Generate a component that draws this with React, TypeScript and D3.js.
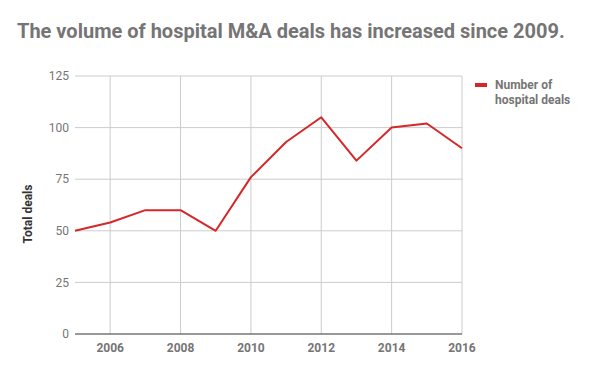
import { useEffect, useRef } from 'react';
import * as d3 from 'd3';

const years = [2005, 2006, 2007, 2008, 2009, 2010, 2011, 2012, 2013, 2014, 2015, 2016];
const deals = [50, 54, 60, 60, 50, 76, 93, 105, 84, 100, 102, 90];
const yTicks = [0, 25, 50, 75, 100, 125];
const xTicks = [2006, 2008, 2010, 2012, 2014, 2016];

const W = 600;
const H = 371;
const M = { top: 76, right: 138, bottom: 37, left: 75 };
const FONT = 'Roboto, sans-serif';

export default function App() {
  const svgRef = useRef<SVGSVGElement>(null);

  useEffect(() => {
    const svg = d3.select(svgRef.current);
    svg.selectAll('*').remove();

    const x = d3.scaleLinear().domain([2005, 2016]).range([M.left, W - M.right]);
    const y = d3.scaleLinear().domain([0, 125]).range([H - M.bottom, M.top]);

    svg.append('rect').attr('width', W).attr('height', H).attr('fill', '#ffffff');

    // Title
    svg
      .append('text')
      .attr('x', 17)
      .attr('y', 38)
      .attr('font-family', FONT)
      .attr('font-size', '20px')
      .attr('font-weight', 'bold')
      .attr('fill', '#757575')
      .text('The volume of hospital M&A deals has increased since 2009.');

    // Grid
    svg
      .append('g')
      .selectAll('line')
      .data(yTicks.filter(t => t > 0))
      .enter()
      .append('line')
      .attr('x1', M.left)
      .attr('x2', W - M.right)
      .attr('y1', d => y(d))
      .attr('y2', d => y(d))
      .attr('stroke', '#cccccc')
      .attr('stroke-width', 1);

    svg
      .append('g')
      .selectAll('line')
      .data(xTicks)
      .enter()
      .append('line')
      .attr('x1', d => x(d))
      .attr('x2', d => x(d))
      .attr('y1', y(125))
      .attr('y2', y(0))
      .attr('stroke', '#cccccc')
      .attr('stroke-width', 1);

    // Baseline
    svg
      .append('line')
      .attr('x1', M.left)
      .attr('x2', W - M.right)
      .attr('y1', y(0))
      .attr('y2', y(0))
      .attr('stroke', '#333333')
      .attr('stroke-width', 1);

    // Y tick labels
    svg
      .append('g')
      .selectAll('text')
      .data(yTicks)
      .enter()
      .append('text')
      .attr('x', M.left - 6)
      .attr('y', d => y(d))
      .attr('dy', '0.35em')
      .attr('text-anchor', 'end')
      .attr('font-family', FONT)
      .attr('font-size', '12px')
      .attr('fill', '#757575')
      .text(d => d);

    // X tick labels
    svg
      .append('g')
      .selectAll('text')
      .data(xTicks)
      .enter()
      .append('text')
      .attr('x', d => x(d))
      .attr('y', y(0) + 18)
      .attr('text-anchor', 'middle')
      .attr('font-family', FONT)
      .attr('font-size', '12px')
      .attr('font-weight', 'bold')
      .attr('fill', '#757575')
      .text(d => d);

    // Y axis title
    svg
      .append('text')
      .attr('transform', `translate(32, 214) rotate(-90)`)
      .attr('text-anchor', 'middle')
      .attr('font-family', FONT)
      .attr('font-size', '12px')
      .attr('font-weight', 'bold')
      .attr('fill', '#333333')
      .text('Total deals');

    // Line
    const line = d3
      .line<number>()
      .x((_d, i) => x(years[i]))
      .y(d => y(d));
    svg
      .append('path')
      .datum(deals)
      .attr('d', line)
      .attr('fill', 'none')
      .attr('stroke', '#d62728')
      .attr('stroke-width', 2)
      .attr('stroke-linejoin', 'round');

    // Legend
    svg
      .append('rect')
      .attr('x', 475)
      .attr('y', 83)
      .attr('width', 12)
      .attr('height', 4)
      .attr('fill', '#d62728');
    const lt = svg
      .append('text')
      .attr('font-family', FONT)
      .attr('font-size', '12px')
      .attr('font-weight', 'bold')
      .attr('fill', '#757575');
    lt.append('tspan').attr('x', 495).attr('y', 89).text('Number of');
    lt.append('tspan').attr('x', 495).attr('y', 104).text('hospital deals');
  }, []);

  return (
    <svg
      ref={svgRef}
      width={W}
      height={H}
      style={{ position: 'absolute', left: 0, top: 0, display: 'block' }}
    />
  );
}
